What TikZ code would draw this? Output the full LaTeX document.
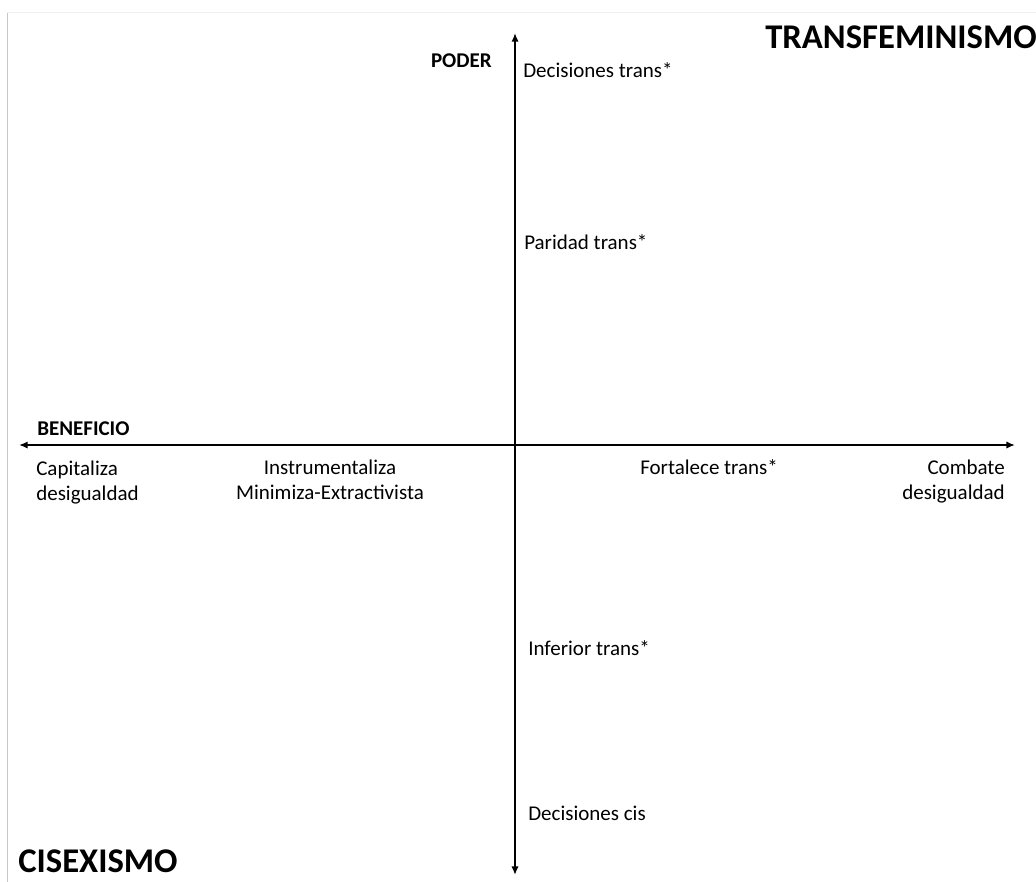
\documentclass[tikz,border=0pt]{standalone}
\usepackage{fontspec}
\setmainfont{Carlito}
\usetikzlibrary{arrows.meta}
\tikzset{
  axisline/.style={line width=1.9pt, {Latex[length=6.5pt,width=5.5pt]}-{Latex[length=6.5pt,width=5.5pt]}},
  lbl/.style={inner sep=0pt, font=\fontsize{15.75pt}{18.75pt}\selectfont},
  axlbl/.style={inner sep=0pt, font=\fontsize{15.75pt}{18.75pt}\selectfont\bfseries},
  big/.style={inner sep=0pt, font=\fontsize{26pt}{30pt}\selectfont\bfseries},
  frame/.style={line width=0.75pt}
}
\begin{document}
\begin{tikzpicture}[x=0.75pt,y=-0.75pt]
\useasboundingbox (0,0) rectangle (1036,882);
\clip (0,0) rectangle (1036,882);
\draw[frame, black!22] (7,12) -- (7,882);
\draw[frame, black!6] (7,12) -- (1036,12);
\coordinate (top) at (515,33);
\coordinate (bot) at (515,875);
\coordinate (left) at (19,445);
\coordinate (right) at (1015,445);
\draw[axisline] (bot) -- (top);
\draw[axisline] (left) -- (right);
\node[axlbl, anchor=base east] (poder) at (492,67) {PODER};
\node[axlbl, anchor=base west] (beneficio) at (37,435) {BENEFICIO};
\node[lbl, anchor=base west] (dectrans) at (523,77) {Decisiones trans*};
\node[lbl, anchor=base west] (paridad) at (524,249) {Paridad trans*};
\node[lbl, anchor=base west] (inferior) at (528,655) {Inferior trans*};
\node[lbl, anchor=base west] (deccis) at (528,820) {Decisiones cis};
\node[lbl, anchor=base west] (cap1) at (36,475) {Capitaliza};
\node[lbl, anchor=base west] (cap2) at (36,500) {desigualdad};
\node[lbl, anchor=base] (ins1) at (330,474) {Instrumentaliza};
\node[lbl, anchor=base] (ins2) at (330,499) {Minimiza-Extractivista};
\node[lbl, anchor=base west] (fort) at (640,474) {Fortalece trans*};
\node[lbl, anchor=base east] (comb1) at (1005,474) {Combate};
\node[lbl, anchor=base east] (comb2) at (1005,499) {desigualdad};
\node[big, anchor=base west] (transfem) at (765,48) {TRANSFEMINISMO};
\node[big, anchor=base west] (cisex) at (18,872) {CISEXISMO};
\end{tikzpicture}
\end{document}
